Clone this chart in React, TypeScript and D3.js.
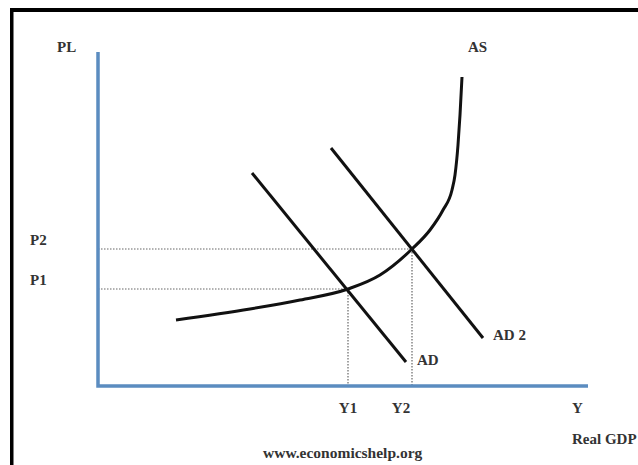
import React from "react";
import * as d3 from "d3";

// Data (units: offsets from the origin of the axes)
const asCurve: [number, number][] = [
  [78, 66], [152, 77], [202, 86], [250, 97], [282, 111], [314, 137],
  [332, 156], [345, 176], [354, 196], [357, 211], [360, 241], [362, 271], [364, 309],
];
const adLine: [number, number][] = [[154, 213], [308, 24]];
const ad2Line: [number, number][] = [[233, 238], [385, 48]];
const priceLevels = [
  { label: "P1", value: 97 },
  { label: "P2", value: 137 },
];
const outputLevels = [
  { label: "Y1", value: 250, labelX: 250 },
  { label: "Y2", value: 314, labelX: 303 },
];

const W = 638;
const H = 465;
const x = d3.scaleLinear().domain([0, 490]).range([98, 588]);
const y = d3.scaleLinear().domain([0, 334]).range([386, 52]);

const line = d3
  .line<[number, number]>()
  .x((d) => x(d[0]))
  .y((d) => y(d[1]));
const smooth = d3
  .line<[number, number]>()
  .x((d) => x(d[0]))
  .y((d) => y(d[1]))
  .curve(d3.curveMonotoneX);

const font = "'Liberation Serif', 'DejaVu Serif', serif";
const txt = { fontFamily: font, fontWeight: 700, fontSize: 15, fill: "#333" } as const;

export default function App() {
  const axisColor = "#5b8cc0";
  return (
    <svg
      width={W}
      height={H}
      style={{ position: "fixed", left: 0, top: 0, background: "#fff" }}
    >
      <rect x={0} y={0} width={W} height={H} fill="#fff" />
      {/* frame */}
      <rect x={10} y={8} width={W - 10} height={4} fill="#000" />
      <rect x={10} y={8} width={3.5} height={H - 8} fill="#000" />

      {/* guide lines */}
      {priceLevels.map((p, i) => (
        <line
          key={"h" + i}
          x1={x(0)}
          x2={x(outputLevels[i].value)}
          y1={y(p.value)}
          y2={y(p.value)}
          stroke="#666"
          strokeWidth={1.2}
          strokeDasharray="1.5 1.5"
        />
      ))}
      {outputLevels.map((o, i) => (
        <line
          key={"v" + i}
          x1={x(o.value)}
          x2={x(o.value)}
          y1={y(priceLevels[i].value)}
          y2={y(0)}
          stroke="#666"
          strokeWidth={1.2}
          strokeDasharray="1.5 1.5"
        />
      ))}

      {/* axes */}
      <path
        d={`M${x(0)},${y(334)} L${x(0)},${y(0)} L${x(490)},${y(0)}`}
        fill="none"
        stroke={axisColor}
        strokeWidth={3.5}
        strokeLinejoin="miter"
      />

      {/* curves */}
      <path d={smooth(asCurve) || ""} fill="none" stroke="#111" strokeWidth={3} />
      <path d={line(adLine) || ""} fill="none" stroke="#111" strokeWidth={3} />
      <path d={line(ad2Line) || ""} fill="none" stroke="#111" strokeWidth={3} />

      {/* labels */}
      <text x={57} y={52} {...txt}>PL</text>
      <text x={468} y={52} {...txt}>AS</text>
      {priceLevels.map((p) => (
        <text key={p.label} x={30} y={y(p.value) - 4} {...txt}>{p.label}</text>
      ))}
      {outputLevels.map((o) => (
        <text key={o.label} x={x(o.labelX)} y={413} textAnchor="middle" {...txt}>{o.label}</text>
      ))}
      <text x={x(adLine[1][0]) + 11} y={365} {...txt}>AD</text>
      <text x={x(ad2Line[1][0]) + 10} y={340} {...txt}>AD 2</text>
      <text x={572} y={413} {...txt}>Y</text>
      <text x={572} y={444} {...txt}>Real GDP</text>
      <text x={263} y={458} {...txt} fontSize={15.5}>www.economicshelp.org</text>
    </svg>
  );
}
